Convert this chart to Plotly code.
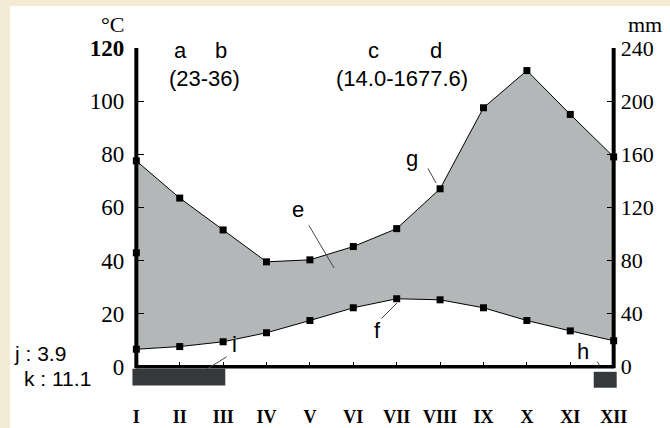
import plotly.graph_objects as go

# ---------------- data ----------------
months = ["I", "II", "III", "IV", "V", "VI", "VII", "VIII", "IX", "X", "XI", "XII"]
month_pos = list(range(1, 13))
temperature_c = [6.6, 7.6, 9.4, 12.8, 17.4, 22.2, 25.6, 25.2, 22.2, 17.4, 13.5, 9.8]
precipitation_mm = [155, 127, 103, 79, 80.5, 90.5, 104, 134, 195, 223, 190, 158]
extra_marker_month = [1]
extra_marker_c = [42.9]
frost_spans = [(0.91, 3.05, -0.75, -7.1), (11.54, 12.07, -1.9, -7.9)]  # month from, month to, top, bottom (°C)
temp_ticks = [0, 20, 40, 60, 80, 100, 120]
temp_tick_text = ["0", "20", "40", "60", "80", "100", "<b>120</b>"]
prec_ticks = [0, 40, 80, 120, 160, 200, 240]

SANS = "Liberation Sans"
SERIF = "Liberation Serif"
W, H = 670, 428
L, R, T, B = 132, 52, 48, 40
XR = [0.9, 12.1]
YR = [-8, 120]
pw = W - L - R
ph = H - T - B

prec_scaled = [p / 2 for p in precipitation_mm]

fig = go.Figure()

fig.add_trace(go.Scatter(
    x=month_pos, y=temperature_c, mode="lines",
    line=dict(color="black", width=1), showlegend=False, hoverinfo="skip"))
fig.add_trace(go.Scatter(
    x=month_pos, y=prec_scaled, mode="lines", fill="tonexty",
    fillcolor="#B4B7B8", line=dict(color="black", width=1),
    showlegend=False, hoverinfo="skip"))
fig.add_trace(go.Scatter(
    x=month_pos, y=temperature_c, mode="markers", cliponaxis=False,
    marker=dict(symbol="square", size=7, color="black"), showlegend=False))
fig.add_trace(go.Scatter(
    x=month_pos, y=prec_scaled, mode="markers", cliponaxis=False,
    marker=dict(symbol="square", size=7, color="black"), showlegend=False))
fig.add_trace(go.Scatter(
    x=extra_marker_month, y=extra_marker_c, mode="markers", cliponaxis=False,
    marker=dict(symbol="square", size=7, color="black"), showlegend=False))
# carriers for the secondary axes
fig.add_trace(go.Scatter(x=[None], y=[None], yaxis="y2", showlegend=False))
fig.add_trace(go.Scatter(x=[None], y=[None], xaxis="x2", showlegend=False))


def ppx(px):
    return (px - L) / pw


def ppy(py):
    return (T + ph - py) / ph


def px2x(px):
    return 1 + (px - 136.3) / (pw / (XR[1] - XR[0]))


def py2y(py):
    return (366.8 - py) / (ph / (YR[1] - YR[0]))


shapes = []
# white panel
shapes.append(dict(type="rect", xref="paper", yref="paper",
                   x0=ppx(10), x1=ppx(W + 5), y0=ppy(H + 5), y1=ppy(6),
                   fillcolor="white", line=dict(width=0), layer="below"))
# frost bars
for x0, x1, y0, y1 in frost_spans:
    shapes.append(dict(type="rect", xref="x", yref="y", x0=x0, x1=x1, y0=y0, y1=y1,
                       fillcolor="#35393C", line=dict(width=0), layer="above"))
# axis lines
shapes.append(dict(type="line", xref="x", yref="y", x0=1, x1=1, y0=-0.6, y1=120,
                   line=dict(color="black", width=4)))
shapes.append(dict(type="line", xref="x", yref="y", x0=12, x1=12, y0=-0.6, y1=120.5,
                   line=dict(color="black", width=4)))
shapes.append(dict(type="line", xref="x", yref="y", x0=1, x1=12, y0=0, y1=0,
                   line=dict(color="black", width=3.5)))

ann = []


def label(px, py, text, size=22, font=SANS, xanchor="center"):
    ann.append(dict(x=ppx(px), y=ppy(py), xref="paper", yref="paper", text=text,
                    showarrow=False, font=dict(family=font, size=size, color="black"),
                    xanchor=xanchor, yanchor="middle"))


def leader(p0, p1):
    ann.append(dict(x=px2x(p1[0]), y=py2y(p1[1]), ax=px2x(p0[0]), ay=py2y(p0[1]),
                    xref="x", yref="y", axref="x", ayref="y",
                    text="", showarrow=True, arrowhead=0, arrowwidth=1, arrowcolor="#444"))


label(180, 51, "a")
label(221, 51, "b")
label(204, 78, "(23-36)")
label(373, 51, "c")
label(436, 51, "d")
label(402, 78, "(14.0-1677.6)")
label(298, 209, "e")
label(377, 330, "f")
label(412, 158, "g")
label(583, 351, "h")
label(234, 344, "i")
label(12, 353, "j : 3.9", size=21, xanchor="left")
label(22, 378, "k : 11.1", size=21, xanchor="left")
label(112, 24, "°C", size=22, font=SERIF)
label(645, 24, "mm", size=22, font=SERIF)

leader((308, 224), (334, 268))
leader((380, 320), (397, 303))
leader((427, 167), (436, 183))
leader((596, 360), (600, 366))
leader((228, 356), (207, 369))

fig.update_layout(
    width=W, height=H,
    margin=dict(l=L, r=R, t=T, b=B, pad=0, autoexpand=False),
    paper_bgcolor="#F3EBD4",
    plot_bgcolor="rgba(0,0,0,0)",
    showlegend=False,
    hovermode=False,
    shapes=shapes,
    annotations=ann,
    # month labels along the bottom of the plot area
    xaxis=dict(range=XR, tickvals=month_pos, ticktext=months, ticks="",
               showgrid=False, zeroline=False, showline=False, automargin=False,
               ticklabelstandoff=16,
               tickfont=dict(family=SERIF, size=18, color="black", weight="bold")),
    # month tick marks on the zero line
    xaxis2=dict(range=XR, tickvals=month_pos, ticks="inside", showticklabels=False,
                ticklen=5, tickwidth=1, tickcolor="black", showgrid=False,
                zeroline=False, showline=False, automargin=False,
                overlaying="x", anchor="free",
                position=(0 - YR[0]) / (YR[1] - YR[0])),
    yaxis=dict(range=YR, tickvals=temp_ticks, ticktext=temp_tick_text, ticks="inside",
               ticklen=7, tickwidth=1, tickcolor="black", showgrid=False,
               zeroline=False, showline=False, anchor="free", automargin=False,
               position=(1 - XR[0]) / (XR[1] - XR[0]),
               ticklabelstandoff=12,
               tickfont=dict(family=SERIF, size=23, color="black")),
    yaxis2=dict(range=[2 * YR[0], 2 * YR[1]], tickvals=prec_ticks, ticks="inside",
                ticklen=7, tickwidth=1, tickcolor="black", showgrid=False,
                zeroline=False, showline=False, overlaying="y", side="right",
                anchor="free", position=(12 - XR[0]) / (XR[1] - XR[0]),
                automargin=False, ticklabelstandoff=6,
                tickfont=dict(family=SERIF, size=22, color="black")),
)

fig.write_html("out.html", config={"displayModeBar": False, "staticPlot": True},
               post_script="document.body.style.margin='0';document.body.style.overflow='hidden';")
